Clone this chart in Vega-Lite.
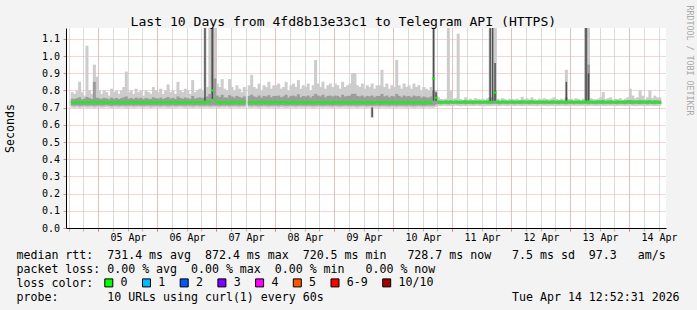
{
"$schema":"https://vega.github.io/schema/vega-lite/v6.json",
"width":600,"height":200,
"autosize":{"type":"none"},
"padding":{"left":66,"top":28,"right":31,"bottom":82},
"background":"#f3f3f3",
"config":{"view":{"fill":"#ffffff","stroke":null},"font":"DejaVu Sans Mono","axis":{"labelFont":"DejaVu Sans Mono","titleFont":"DejaVu Sans Mono","labelColor":"#000000","titleColor":"#000000","titleFontWeight":"normal"}},
"title":{"text":"Last 10 Days from 4fd8b13e33c1 to Telegram API (HTTPS)","anchor":"start","frame":"group","dx":64.5,"dy":35.7,"offset":1.3,"baseline":"alphabetic","font":"DejaVu Sans Mono","fontSize":13.1,"fontWeight":"normal","color":"#000000"},
"data":{"values":[
{"t":"2026-04-04T13:30","lo":0.700,"a":0.712,"b":0.752,"hi":0.790,"m":0.731},
{"t":"2026-04-04T14:30","lo":0.699,"a":0.711,"b":0.750,"hi":0.780,"m":0.729},
{"t":"2026-04-04T15:30","lo":0.701,"a":0.713,"b":0.755,"hi":0.800,"m":0.732},
{"t":"2026-04-04T16:30","lo":0.698,"a":0.710,"b":0.760,"hi":0.850,"m":0.730},
{"t":"2026-04-04T17:30","lo":0.700,"a":0.712,"b":0.748,"hi":0.790,"m":0.733},
{"t":"2026-04-04T18:30","lo":0.702,"a":0.713,"b":0.752,"hi":0.770,"m":0.731},
{"t":"2026-04-04T19:30","lo":0.699,"a":0.711,"b":0.762,"hi":1.060,"m":0.730},
{"t":"2026-04-04T20:30","lo":0.700,"a":0.712,"b":0.756,"hi":0.800,"m":0.732},
{"t":"2026-04-04T21:30","lo":0.701,"a":0.713,"b":0.750,"hi":0.780,"m":0.729},
{"t":"2026-04-04T22:30","lo":0.698,"a":0.711,"b":0.850,"hi":0.950,"m":0.735},
{"t":"2026-04-04T23:30","lo":0.700,"a":0.712,"b":0.758,"hi":0.880,"m":0.731},
{"t":"2026-04-05T00:30","lo":0.701,"a":0.713,"b":0.754,"hi":0.800,"m":0.730},
{"t":"2026-04-05T01:30","lo":0.699,"a":0.711,"b":0.751,"hi":0.780,"m":0.732},
{"t":"2026-04-05T02:30","lo":0.700,"a":0.712,"b":0.757,"hi":0.800,"m":0.731},
{"t":"2026-04-05T03:30","lo":0.702,"a":0.714,"b":0.753,"hi":0.790,"m":0.729},
{"t":"2026-04-05T04:30","lo":0.700,"a":0.712,"b":0.749,"hi":0.770,"m":0.731},
{"t":"2026-04-05T05:30","lo":0.698,"a":0.710,"b":0.758,"hi":0.810,"m":0.733},
{"t":"2026-04-05T06:30","lo":0.701,"a":0.712,"b":0.752,"hi":0.790,"m":0.730},
{"t":"2026-04-05T07:30","lo":0.700,"a":0.713,"b":0.756,"hi":0.800,"m":0.731},
{"t":"2026-04-05T08:30","lo":0.699,"a":0.711,"b":0.750,"hi":0.780,"m":0.732},
{"t":"2026-04-05T09:30","lo":0.701,"a":0.712,"b":0.755,"hi":0.800,"m":0.730},
{"t":"2026-04-05T10:30","lo":0.700,"a":0.712,"b":0.760,"hi":0.820,"m":0.731},
{"t":"2026-04-05T11:30","lo":0.698,"a":0.711,"b":0.765,"hi":0.910,"m":0.733},
{"t":"2026-04-05T12:30","lo":0.700,"a":0.712,"b":0.752,"hi":0.790,"m":0.729},
{"t":"2026-04-05T13:30","lo":0.701,"a":0.713,"b":0.756,"hi":0.800,"m":0.731},
{"t":"2026-04-05T14:30","lo":0.699,"a":0.711,"b":0.750,"hi":0.780,"m":0.732},
{"t":"2026-04-05T15:30","lo":0.700,"a":0.712,"b":0.758,"hi":0.810,"m":0.730},
{"t":"2026-04-05T16:30","lo":0.702,"a":0.713,"b":0.753,"hi":0.790,"m":0.731},
{"t":"2026-04-05T17:30","lo":0.700,"a":0.712,"b":0.757,"hi":0.800,"m":0.729},
{"t":"2026-04-05T18:30","lo":0.699,"a":0.711,"b":0.749,"hi":0.770,"m":0.732},
{"t":"2026-04-05T19:30","lo":0.701,"a":0.712,"b":0.756,"hi":0.800,"m":0.731},
{"t":"2026-04-05T20:30","lo":0.700,"a":0.713,"b":0.752,"hi":0.790,"m":0.730},
{"t":"2026-04-05T21:30","lo":0.698,"a":0.711,"b":0.751,"hi":0.780,"m":0.733},
{"t":"2026-04-05T22:30","lo":0.700,"a":0.712,"b":0.760,"hi":0.820,"m":0.731},
{"t":"2026-04-05T23:30","lo":0.701,"a":0.712,"b":0.755,"hi":0.800,"m":0.730},
{"t":"2026-04-06T00:30","lo":0.700,"a":0.712,"b":0.753,"hi":0.790,"m":0.731},
{"t":"2026-04-06T01:30","lo":0.699,"a":0.711,"b":0.758,"hi":0.810,"m":0.732},
{"t":"2026-04-06T02:30","lo":0.701,"a":0.713,"b":0.750,"hi":0.780,"m":0.729},
{"t":"2026-04-06T03:30","lo":0.700,"a":0.712,"b":0.756,"hi":0.800,"m":0.731},
{"t":"2026-04-06T04:30","lo":0.698,"a":0.711,"b":0.762,"hi":0.835,"m":0.733},
{"t":"2026-04-06T05:30","lo":0.700,"a":0.712,"b":0.752,"hi":0.790,"m":0.730},
{"t":"2026-04-06T06:30","lo":0.701,"a":0.713,"b":0.757,"hi":0.800,"m":0.731},
{"t":"2026-04-06T07:30","lo":0.699,"a":0.711,"b":0.750,"hi":0.780,"m":0.732},
{"t":"2026-04-06T08:30","lo":0.700,"a":0.712,"b":0.765,"hi":0.850,"m":0.730},
{"t":"2026-04-06T09:30","lo":0.702,"a":0.713,"b":0.756,"hi":0.800,"m":0.731},
{"t":"2026-04-06T10:30","lo":0.700,"a":0.712,"b":0.752,"hi":0.790,"m":0.729},
{"t":"2026-04-06T11:30","lo":0.699,"a":0.711,"b":0.759,"hi":0.810,"m":0.732},
{"t":"2026-04-06T12:30","lo":0.701,"a":0.712,"b":0.755,"hi":0.800,"m":0.731},
{"t":"2026-04-06T13:30","lo":0.700,"a":0.713,"b":0.750,"hi":0.780,"m":0.730},
{"t":"2026-04-06T14:30","lo":0.698,"a":0.711,"b":0.768,"hi":0.860,"m":0.733},
{"t":"2026-04-06T15:30","lo":0.700,"a":0.712,"b":0.753,"hi":0.790,"m":0.731},
{"t":"2026-04-06T16:30","lo":0.701,"a":0.713,"b":0.757,"hi":0.800,"m":0.730},
{"t":"2026-04-06T17:30","lo":0.699,"a":0.711,"b":0.760,"hi":0.810,"m":0.732},
{"t":"2026-04-06T18:30","lo":0.700,"a":0.712,"b":0.756,"hi":0.800,"m":0.731},
{"t":"2026-04-06T19:30","lo":0.700,"a":0.712,"b":0.760,"hi":1.2,"m":0.731,"c":0.740,"d":1.2},
{"t":"2026-04-06T20:30","lo":0.701,"a":0.713,"b":0.765,"hi":0.820,"m":0.733},
{"t":"2026-04-06T21:30","lo":0.699,"a":0.711,"b":0.780,"hi":1.2,"m":0.735},
{"t":"2026-04-06T22:30","lo":0.700,"a":0.713,"b":1.2,"hi":1.2,"m":0.800,"c":0.750,"d":1.2},
{"t":"2026-04-06T23:30","lo":0.701,"a":0.712,"b":0.870,"hi":1.2,"m":0.745},
{"t":"2026-04-07T00:30","lo":0.700,"a":0.712,"b":0.770,"hi":0.840,"m":0.732},
{"t":"2026-04-07T01:30","lo":0.699,"a":0.711,"b":0.762,"hi":0.820,"m":0.730},
{"t":"2026-04-07T02:30","lo":0.701,"a":0.713,"b":0.775,"hi":0.866,"m":0.731},
{"t":"2026-04-07T03:30","lo":0.700,"a":0.712,"b":0.760,"hi":0.810,"m":0.733},
{"t":"2026-04-07T04:30","lo":0.702,"a":0.713,"b":0.758,"hi":0.800,"m":0.731},
{"t":"2026-04-07T05:30","lo":0.699,"a":0.711,"b":0.772,"hi":0.866,"m":0.729},
{"t":"2026-04-07T06:30","lo":0.700,"a":0.712,"b":0.765,"hi":0.820,"m":0.731},
{"t":"2026-04-07T07:30","lo":0.701,"a":0.713,"b":0.758,"hi":0.800,"m":0.732},
{"t":"2026-04-07T08:30","lo":0.700,"a":0.712,"b":0.768,"hi":0.830,"m":0.730},
{"t":"2026-04-07T09:30","lo":0.699,"a":0.711,"b":0.762,"hi":0.810,"m":0.731},
{"t":"2026-04-07T10:30","lo":0.701,"a":0.712,"b":0.756,"hi":0.790,"m":0.733},
{"t":"2026-04-07T11:30","lo":0.700,"a":0.713,"b":0.765,"hi":0.820,"m":0.731},
{"t":"2026-04-07T13:30","lo":0.700,"a":0.712,"b":0.768,"hi":0.830,"m":0.730},
{"t":"2026-04-07T14:30","lo":0.699,"a":0.711,"b":0.775,"hi":0.890,"m":0.732},
{"t":"2026-04-07T15:30","lo":0.701,"a":0.713,"b":0.765,"hi":0.820,"m":0.731},
{"t":"2026-04-07T16:30","lo":0.700,"a":0.712,"b":0.760,"hi":0.810,"m":0.729},
{"t":"2026-04-07T17:30","lo":0.698,"a":0.711,"b":0.770,"hi":0.840,"m":0.731},
{"t":"2026-04-07T18:30","lo":0.700,"a":0.712,"b":0.758,"hi":0.800,"m":0.733},
{"t":"2026-04-07T19:30","lo":0.701,"a":0.713,"b":0.768,"hi":0.830,"m":0.730},
{"t":"2026-04-07T20:30","lo":0.700,"a":0.712,"b":0.764,"hi":0.820,"m":0.731},
{"t":"2026-04-07T21:30","lo":0.699,"a":0.711,"b":0.772,"hi":0.850,"m":0.732},
{"t":"2026-04-07T22:30","lo":0.701,"a":0.712,"b":0.760,"hi":0.810,"m":0.730},
{"t":"2026-04-07T23:30","lo":0.700,"a":0.713,"b":0.768,"hi":0.830,"m":0.731},
{"t":"2026-04-08T00:30","lo":0.700,"a":0.712,"b":0.768,"hi":0.830,"m":0.732},
{"t":"2026-04-08T01:30","lo":0.699,"a":0.711,"b":0.770,"hi":0.840,"m":0.730},
{"t":"2026-04-08T02:30","lo":0.701,"a":0.713,"b":0.760,"hi":0.810,"m":0.731},
{"t":"2026-04-08T03:30","lo":0.700,"a":0.712,"b":0.765,"hi":0.820,"m":0.733},
{"t":"2026-04-08T04:30","lo":0.698,"a":0.711,"b":0.775,"hi":0.850,"m":0.731},
{"t":"2026-04-08T05:30","lo":0.700,"a":0.712,"b":0.758,"hi":0.800,"m":0.729},
{"t":"2026-04-08T06:30","lo":0.701,"a":0.713,"b":0.768,"hi":0.830,"m":0.731},
{"t":"2026-04-08T07:30","lo":0.700,"a":0.712,"b":0.770,"hi":0.840,"m":0.732},
{"t":"2026-04-08T08:30","lo":0.699,"a":0.711,"b":0.765,"hi":0.820,"m":0.730},
{"t":"2026-04-08T09:30","lo":0.701,"a":0.712,"b":0.778,"hi":0.860,"m":0.731},
{"t":"2026-04-08T10:30","lo":0.700,"a":0.713,"b":0.760,"hi":0.810,"m":0.733},
{"t":"2026-04-08T11:30","lo":0.700,"a":0.712,"b":0.768,"hi":0.830,"m":0.731},
{"t":"2026-04-08T12:30","lo":0.699,"a":0.711,"b":0.765,"hi":0.820,"m":0.730},
{"t":"2026-04-08T13:30","lo":0.701,"a":0.713,"b":0.770,"hi":0.840,"m":0.732},
{"t":"2026-04-08T14:30","lo":0.700,"a":0.712,"b":0.758,"hi":0.800,"m":0.731},
{"t":"2026-04-08T15:30","lo":0.698,"a":0.711,"b":0.768,"hi":0.830,"m":0.729},
{"t":"2026-04-08T16:30","lo":0.700,"a":0.712,"b":0.780,"hi":0.977,"m":0.731},
{"t":"2026-04-08T17:30","lo":0.701,"a":0.713,"b":0.770,"hi":0.840,"m":0.733},
{"t":"2026-04-08T18:30","lo":0.700,"a":0.712,"b":0.765,"hi":0.820,"m":0.731},
{"t":"2026-04-08T19:30","lo":0.699,"a":0.711,"b":0.775,"hi":0.850,"m":0.730},
{"t":"2026-04-08T20:30","lo":0.701,"a":0.712,"b":0.760,"hi":0.810,"m":0.732},
{"t":"2026-04-08T21:30","lo":0.700,"a":0.713,"b":0.768,"hi":0.830,"m":0.731},
{"t":"2026-04-08T22:30","lo":0.700,"a":0.712,"b":0.770,"hi":0.840,"m":0.729},
{"t":"2026-04-08T23:30","lo":0.699,"a":0.711,"b":0.765,"hi":0.820,"m":0.731},
{"t":"2026-04-09T00:30","lo":0.701,"a":0.713,"b":0.770,"hi":0.840,"m":0.732},
{"t":"2026-04-09T01:30","lo":0.700,"a":0.712,"b":0.768,"hi":0.830,"m":0.730},
{"t":"2026-04-09T02:30","lo":0.699,"a":0.711,"b":0.760,"hi":0.810,"m":0.731},
{"t":"2026-04-09T03:30","lo":0.701,"a":0.712,"b":0.775,"hi":0.850,"m":0.733},
{"t":"2026-04-09T04:30","lo":0.700,"a":0.713,"b":0.765,"hi":0.820,"m":0.731},
{"t":"2026-04-09T05:30","lo":0.700,"a":0.712,"b":0.768,"hi":0.830,"m":0.729},
{"t":"2026-04-09T06:30","lo":0.699,"a":0.711,"b":0.770,"hi":0.840,"m":0.731},
{"t":"2026-04-09T07:30","lo":0.701,"a":0.713,"b":0.780,"hi":0.900,"m":0.732},
{"t":"2026-04-09T08:30","lo":0.700,"a":0.712,"b":0.780,"hi":0.900,"m":0.730},
{"t":"2026-04-09T09:30","lo":0.698,"a":0.711,"b":0.768,"hi":0.830,"m":0.731},
{"t":"2026-04-09T10:30","lo":0.700,"a":0.712,"b":0.765,"hi":0.820,"m":0.733},
{"t":"2026-04-09T11:30","lo":0.701,"a":0.713,"b":0.770,"hi":0.840,"m":0.731},
{"t":"2026-04-09T12:30","lo":0.700,"a":0.712,"b":0.760,"hi":0.810,"m":0.730},
{"t":"2026-04-09T13:30","lo":0.699,"a":0.711,"b":0.768,"hi":0.830,"m":0.732},
{"t":"2026-04-09T14:30","lo":0.701,"a":0.712,"b":0.765,"hi":0.820,"m":0.731},
{"t":"2026-04-09T15:30","lo":0.640,"a":0.711,"b":0.770,"hi":0.840,"m":0.729,"c":0.645,"d":0.700},
{"t":"2026-04-09T16:30","lo":0.700,"a":0.712,"b":0.760,"hi":0.810,"m":0.731},
{"t":"2026-04-09T17:30","lo":0.700,"a":0.713,"b":0.768,"hi":0.830,"m":0.733},
{"t":"2026-04-09T18:30","lo":0.699,"a":0.711,"b":0.768,"hi":0.830,"m":0.731},
{"t":"2026-04-09T19:30","lo":0.701,"a":0.712,"b":0.780,"hi":0.920,"m":0.730},
{"t":"2026-04-09T20:30","lo":0.700,"a":0.713,"b":0.765,"hi":0.820,"m":0.732},
{"t":"2026-04-09T21:30","lo":0.700,"a":0.712,"b":0.770,"hi":0.840,"m":0.731},
{"t":"2026-04-09T22:30","lo":0.699,"a":0.711,"b":0.760,"hi":0.810,"m":0.729},
{"t":"2026-04-09T23:30","lo":0.701,"a":0.713,"b":0.768,"hi":0.830,"m":0.731},
{"t":"2026-04-10T00:30","lo":0.700,"a":0.712,"b":0.765,"hi":0.820,"m":0.732},
{"t":"2026-04-10T01:30","lo":0.699,"a":0.711,"b":0.780,"hi":0.977,"m":0.730},
{"t":"2026-04-10T02:30","lo":0.701,"a":0.713,"b":0.768,"hi":0.830,"m":0.731},
{"t":"2026-04-10T03:30","lo":0.700,"a":0.712,"b":0.760,"hi":0.810,"m":0.733},
{"t":"2026-04-10T04:30","lo":0.700,"a":0.712,"b":0.770,"hi":0.840,"m":0.731},
{"t":"2026-04-10T05:30","lo":0.699,"a":0.711,"b":0.765,"hi":0.820,"m":0.729},
{"t":"2026-04-10T06:30","lo":0.701,"a":0.713,"b":0.768,"hi":0.830,"m":0.731},
{"t":"2026-04-10T07:30","lo":0.700,"a":0.712,"b":0.760,"hi":0.810,"m":0.732},
{"t":"2026-04-10T08:30","lo":0.698,"a":0.711,"b":0.770,"hi":0.840,"m":0.730},
{"t":"2026-04-10T09:30","lo":0.700,"a":0.712,"b":0.765,"hi":0.820,"m":0.731},
{"t":"2026-04-10T10:30","lo":0.701,"a":0.713,"b":0.768,"hi":0.830,"m":0.733},
{"t":"2026-04-10T11:30","lo":0.700,"a":0.712,"b":0.758,"hi":0.800,"m":0.731},
{"t":"2026-04-10T12:30","lo":0.699,"a":0.711,"b":0.765,"hi":0.820,"m":0.730},
{"t":"2026-04-10T13:30","lo":0.701,"a":0.712,"b":0.760,"hi":0.810,"m":0.732},
{"t":"2026-04-10T14:30","lo":0.700,"a":0.713,"b":0.758,"hi":0.800,"m":0.731},
{"t":"2026-04-10T15:30","lo":0.700,"a":0.712,"b":0.765,"hi":0.820,"m":0.729},
{"t":"2026-04-10T16:30","lo":0.700,"a":0.712,"b":0.800,"hi":1.2,"m":0.870,"c":0.740,"d":1.2},
{"t":"2026-04-10T17:30","lo":0.705,"a":0.718,"b":0.770,"hi":0.800,"m":0.758,"c":0.740,"d":0.790},
{"t":"2026-04-10T18:30","lo":0.710,"a":0.721,"b":0.742,"hi":0.760,"m":0.732},
{"t":"2026-04-10T19:30","lo":0.709,"a":0.720,"b":0.741,"hi":0.750,"m":0.733},
{"t":"2026-04-10T20:30","lo":0.711,"a":0.722,"b":0.740,"hi":0.748,"m":0.731},
{"t":"2026-04-10T21:30","lo":0.710,"a":0.721,"b":0.742,"hi":0.752,"m":0.734},
{"t":"2026-04-10T22:30","lo":0.709,"a":0.720,"b":0.741,"hi":1.2,"m":0.732},
{"t":"2026-04-10T23:30","lo":0.710,"a":0.722,"b":0.743,"hi":0.800,"m":0.733},
{"t":"2026-04-11T00:30","lo":0.709,"a":0.721,"b":0.740,"hi":0.752,"m":0.732},
{"t":"2026-04-11T01:30","lo":0.711,"a":0.722,"b":0.742,"hi":0.755,"m":0.734},
{"t":"2026-04-11T02:30","lo":0.710,"a":0.720,"b":0.741,"hi":1.130,"m":0.733},
{"t":"2026-04-11T03:30","lo":0.708,"a":0.721,"b":0.740,"hi":0.750,"m":0.731},
{"t":"2026-04-11T04:30","lo":0.710,"a":0.722,"b":0.742,"hi":0.745,"m":0.733},
{"t":"2026-04-11T05:30","lo":0.709,"a":0.720,"b":0.743,"hi":0.760,"m":0.734},
{"t":"2026-04-11T06:30","lo":0.711,"a":0.721,"b":0.740,"hi":0.748,"m":0.732},
{"t":"2026-04-11T07:30","lo":0.710,"a":0.722,"b":0.741,"hi":0.752,"m":0.733},
{"t":"2026-04-11T08:30","lo":0.709,"a":0.720,"b":0.742,"hi":0.745,"m":0.731},
{"t":"2026-04-11T09:30","lo":0.710,"a":0.721,"b":0.740,"hi":0.755,"m":0.734},
{"t":"2026-04-11T10:30","lo":0.711,"a":0.722,"b":0.741,"hi":0.750,"m":0.733},
{"t":"2026-04-11T11:30","lo":0.709,"a":0.720,"b":0.742,"hi":0.748,"m":0.732},
{"t":"2026-04-11T12:30","lo":0.710,"a":0.721,"b":0.740,"hi":0.752,"m":0.733},
{"t":"2026-04-11T13:30","lo":0.708,"a":0.722,"b":0.741,"hi":0.746,"m":0.734},
{"t":"2026-04-11T14:30","lo":0.710,"a":0.720,"b":0.742,"hi":0.755,"m":0.732},
{"t":"2026-04-11T15:30","lo":0.709,"a":0.721,"b":0.760,"hi":1.2,"m":0.733,"c":0.730,"d":1.2},
{"t":"2026-04-11T16:30","lo":0.710,"a":0.722,"b":0.760,"hi":1.2,"m":0.735,"c":0.730,"d":1.2},
{"t":"2026-04-11T17:30","lo":0.711,"a":0.722,"b":0.800,"hi":1.2,"m":0.787,"c":0.740,"d":0.960},
{"t":"2026-04-11T18:30","lo":0.710,"a":0.721,"b":0.742,"hi":0.752,"m":0.733},
{"t":"2026-04-11T19:30","lo":0.709,"a":0.720,"b":0.740,"hi":0.748,"m":0.731},
{"t":"2026-04-11T20:30","lo":0.711,"a":0.722,"b":0.741,"hi":0.755,"m":0.734},
{"t":"2026-04-11T21:30","lo":0.710,"a":0.721,"b":0.742,"hi":0.750,"m":0.733},
{"t":"2026-04-11T22:30","lo":0.709,"a":0.720,"b":0.740,"hi":0.745,"m":0.732},
{"t":"2026-04-11T23:30","lo":0.710,"a":0.722,"b":0.741,"hi":0.752,"m":0.733},
{"t":"2026-04-12T00:30","lo":0.710,"a":0.721,"b":0.742,"hi":0.750,"m":0.734},
{"t":"2026-04-12T01:30","lo":0.709,"a":0.720,"b":0.740,"hi":0.748,"m":0.732},
{"t":"2026-04-12T02:30","lo":0.711,"a":0.722,"b":0.741,"hi":0.752,"m":0.733},
{"t":"2026-04-12T03:30","lo":0.710,"a":0.721,"b":0.742,"hi":0.745,"m":0.731},
{"t":"2026-04-12T04:30","lo":0.709,"a":0.720,"b":0.743,"hi":0.763,"m":0.733},
{"t":"2026-04-12T05:30","lo":0.710,"a":0.722,"b":0.740,"hi":0.750,"m":0.734},
{"t":"2026-04-12T06:30","lo":0.711,"a":0.721,"b":0.741,"hi":0.755,"m":0.732},
{"t":"2026-04-12T07:30","lo":0.710,"a":0.720,"b":0.742,"hi":0.748,"m":0.733},
{"t":"2026-04-12T08:30","lo":0.709,"a":0.722,"b":0.743,"hi":0.760,"m":0.734},
{"t":"2026-04-12T09:30","lo":0.710,"a":0.721,"b":0.740,"hi":0.750,"m":0.732},
{"t":"2026-04-12T10:30","lo":0.708,"a":0.720,"b":0.741,"hi":0.745,"m":0.733},
{"t":"2026-04-12T11:30","lo":0.710,"a":0.722,"b":0.742,"hi":0.752,"m":0.731},
{"t":"2026-04-12T12:30","lo":0.711,"a":0.721,"b":0.740,"hi":0.748,"m":0.734},
{"t":"2026-04-12T13:30","lo":0.710,"a":0.720,"b":0.741,"hi":0.755,"m":0.733},
{"t":"2026-04-12T14:30","lo":0.709,"a":0.722,"b":0.742,"hi":0.750,"m":0.732},
{"t":"2026-04-12T15:30","lo":0.710,"a":0.721,"b":0.740,"hi":0.748,"m":0.733},
{"t":"2026-04-12T16:30","lo":0.711,"a":0.720,"b":0.741,"hi":0.752,"m":0.734},
{"t":"2026-04-12T17:30","lo":0.710,"a":0.722,"b":0.743,"hi":0.760,"m":0.732},
{"t":"2026-04-12T18:30","lo":0.709,"a":0.721,"b":0.740,"hi":0.750,"m":0.733},
{"t":"2026-04-12T19:30","lo":0.710,"a":0.720,"b":0.742,"hi":0.745,"m":0.731},
{"t":"2026-04-12T20:30","lo":0.711,"a":0.722,"b":0.741,"hi":0.752,"m":0.734},
{"t":"2026-04-12T21:30","lo":0.710,"a":0.721,"b":0.740,"hi":0.748,"m":0.733},
{"t":"2026-04-12T22:30","lo":0.709,"a":0.720,"b":0.760,"hi":0.920,"m":0.732,"c":0.740,"d":0.850},
{"t":"2026-04-12T23:30","lo":0.710,"a":0.722,"b":0.741,"hi":0.750,"m":0.733},
{"t":"2026-04-13T00:30","lo":0.711,"a":0.721,"b":0.742,"hi":0.752,"m":0.734},
{"t":"2026-04-13T01:30","lo":0.710,"a":0.720,"b":0.740,"hi":0.748,"m":0.732},
{"t":"2026-04-13T02:30","lo":0.709,"a":0.722,"b":0.741,"hi":0.755,"m":0.733},
{"t":"2026-04-13T03:30","lo":0.710,"a":0.721,"b":0.742,"hi":0.750,"m":0.731},
{"t":"2026-04-13T04:30","lo":0.711,"a":0.720,"b":0.740,"hi":0.745,"m":0.733},
{"t":"2026-04-13T05:30","lo":0.710,"a":0.722,"b":0.741,"hi":0.752,"m":0.734},
{"t":"2026-04-13T06:30","lo":0.709,"a":0.721,"b":1.2,"hi":1.2,"m":0.733,"c":0.740,"d":1.2},
{"t":"2026-04-13T07:30","lo":0.710,"a":0.720,"b":0.950,"hi":1.2,"m":0.735,"c":0.740,"d":0.900},
{"t":"2026-04-13T08:30","lo":0.711,"a":0.722,"b":0.742,"hi":0.755,"m":0.733},
{"t":"2026-04-13T09:30","lo":0.710,"a":0.721,"b":0.740,"hi":0.750,"m":0.732},
{"t":"2026-04-13T10:30","lo":0.709,"a":0.720,"b":0.741,"hi":0.748,"m":0.734},
{"t":"2026-04-13T11:30","lo":0.710,"a":0.722,"b":0.742,"hi":0.752,"m":0.733},
{"t":"2026-04-13T12:30","lo":0.711,"a":0.721,"b":0.743,"hi":0.760,"m":0.732},
{"t":"2026-04-13T13:30","lo":0.710,"a":0.720,"b":0.745,"hi":0.790,"m":0.733},
{"t":"2026-04-13T14:30","lo":0.709,"a":0.722,"b":0.740,"hi":0.750,"m":0.731},
{"t":"2026-04-13T15:30","lo":0.710,"a":0.721,"b":0.742,"hi":0.755,"m":0.734},
{"t":"2026-04-13T16:30","lo":0.711,"a":0.720,"b":0.743,"hi":0.760,"m":0.733},
{"t":"2026-04-13T17:30","lo":0.710,"a":0.722,"b":0.740,"hi":0.748,"m":0.732},
{"t":"2026-04-13T18:30","lo":0.709,"a":0.721,"b":0.741,"hi":0.752,"m":0.733},
{"t":"2026-04-13T19:30","lo":0.710,"a":0.720,"b":0.742,"hi":0.750,"m":0.734},
{"t":"2026-04-13T20:30","lo":0.711,"a":0.722,"b":0.740,"hi":0.755,"m":0.732},
{"t":"2026-04-13T21:30","lo":0.710,"a":0.721,"b":0.741,"hi":0.745,"m":0.733},
{"t":"2026-04-13T22:30","lo":0.709,"a":0.720,"b":0.742,"hi":0.752,"m":0.731},
{"t":"2026-04-13T23:30","lo":0.710,"a":0.722,"b":0.743,"hi":0.760,"m":0.734},
{"t":"2026-04-14T00:30","lo":0.711,"a":0.721,"b":0.745,"hi":0.810,"m":0.733},
{"t":"2026-04-14T01:30","lo":0.710,"a":0.720,"b":0.743,"hi":0.770,"m":0.732},
{"t":"2026-04-14T02:30","lo":0.709,"a":0.722,"b":0.741,"hi":0.755,"m":0.734},
{"t":"2026-04-14T03:30","lo":0.710,"a":0.721,"b":0.742,"hi":0.760,"m":0.733},
{"t":"2026-04-14T04:30","lo":0.711,"a":0.720,"b":0.745,"hi":0.800,"m":0.731},
{"t":"2026-04-14T05:30","lo":0.710,"a":0.722,"b":0.743,"hi":0.770,"m":0.733},
{"t":"2026-04-14T06:30","lo":0.709,"a":0.721,"b":0.740,"hi":0.750,"m":0.734},
{"t":"2026-04-14T07:30","lo":0.710,"a":0.720,"b":0.742,"hi":0.760,"m":0.732},
{"t":"2026-04-14T08:30","lo":0.711,"a":0.722,"b":0.745,"hi":0.800,"m":0.733},
{"t":"2026-04-14T09:30","lo":0.710,"a":0.721,"b":0.741,"hi":0.755,"m":0.731},
{"t":"2026-04-14T10:30","lo":0.709,"a":0.720,"b":0.743,"hi":0.770,"m":0.734},
{"t":"2026-04-14T11:30","lo":0.710,"a":0.722,"b":0.742,"hi":0.760,"m":0.732},
{"t":"2026-04-14T12:30","lo":0.711,"a":0.721,"b":0.742,"hi":0.760,"m":0.729}
]},
"layer":[
{"mark":{"type":"bar","size":3,"color":"#cccccc","clip":true},
 "encoding":{
  "x":{"field":"t","type":"temporal","scale":{"domain":[{"year":2026,"month":4,"date":4,"hours":13},{"year":2026,"month":4,"date":14,"hours":13}]},
   "axis":{"orient":"bottom","tickCount":40,"labels":false,"ticks":true,"tickSize":3,"tickColor":"#b4b4b4","domain":false,"grid":true,"gridColor":"#b4b4b4","gridDash":[1,1],"title":null}},
  "y":{"field":"lo","type":"quantitative","scale":{"domain":[0,1.163],"nice":false,"zero":false},
   "axis":{"orient":"left","values":[0,0.1,0.2,0.3,0.4,0.5,0.6,0.7,0.8,0.9,1.0,1.1],"format":".1f","grid":true,"gridColor":"#eeaaaa","gridDash":[1,1],"tickColor":"#e08080","tickSize":3,"domainColor":"#000000","labelFontSize":10,"labelPadding":3.5,"title":"Seconds","titleFontSize":11.6,"titleX":-55.5,"titleY":100,"titleAngle":-90,"titleAlign":"center","titleBaseline":"middle"}},
  "y2":{"field":"hi"}}},
{"mark":{"type":"bar","size":3,"color":"#9c9c9c","clip":true},
 "encoding":{
  "x":{"field":"t","type":"temporal","scale":{"domain":[{"year":2026,"month":4,"date":4,"hours":13},{"year":2026,"month":4,"date":14,"hours":13}]},
   "axis":{"orient":"bottom","tickCount":10,"format":"%d %b","labelOffset":30,"labelFlush":false,"labelOverlap":false,"labelFontSize":10,"labelBaseline":"alphabetic","labelPadding":9.7,"ticks":true,"tickSize":3,"tickColor":"#e08080","domain":true,"domainColor":"#000000","grid":true,"gridColor":"#eeaaaa","gridDash":[1,1],
    "title":["median\u00a0rtt:\u00a0\u00a0731.4\u00a0ms\u00a0avg\u00a0\u00a0872.4\u00a0ms\u00a0max\u00a0\u00a0720.5\u00a0ms\u00a0min\u00a0\u00a0\u00a0728.7\u00a0ms\u00a0now\u00a0\u00a0\u00a07.5\u00a0ms\u00a0sd\u00a0\u00a097.3\u00a0\u00a0\u00a0am/s","packet\u00a0loss:\u00a00.00\u00a0%\u00a0avg\u00a0\u00a00.00\u00a0%\u00a0max\u00a0\u00a00.00\u00a0%\u00a0min\u00a0\u00a0\u00a00.00\u00a0%\u00a0now","loss\u00a0color:","probe:\u00a0\u00a0\u00a0\u00a0\u00a0\u00a0\u00a010\u00a0URLs\u00a0using\u00a0curl(1)\u00a0every\u00a060s\u00a0\u00a0\u00a0\u00a0\u00a0\u00a0\u00a0\u00a0\u00a0\u00a0\u00a0\u00a0\u00a0\u00a0\u00a0\u00a0\u00a0\u00a0\u00a0\u00a0\u00a0\u00a0\u00a0\u00a0\u00a0\u00a0\u00a0Tue\u00a0Apr\u00a014\u00a012:52:31\u00a02026"],
    "titleFontSize":11.6,"titleLineHeight":14,"titleAnchor":"start","titleAlign":"left","titleBaseline":"alphabetic","titleX":-50,"titleY":30.3}},
  "y":{"field":"a","type":"quantitative","scale":{"domain":[0,1.163],"nice":false,"zero":false},
   "axis":{"orient":"right","labels":false,"ticks":false,"domain":false,"grid":false,"title":"RRDTOOL / TOBI OETIKER","titleAngle":90,"titleX":22,"titleY":-23,"titleAlign":"left","titleBaseline":"middle","titleColor":"#a8a8a8","titleFontSize":8.3}},
  "y2":{"field":"b"}}},
{"mark":{"type":"bar","size":1.5,"color":"#505050","clip":true},
 "encoding":{
  "x":{"field":"t","type":"temporal","scale":{"domain":[{"year":2026,"month":4,"date":4,"hours":13},{"year":2026,"month":4,"date":14,"hours":13}]},"axis":null},
  "y":{"field":"c","type":"quantitative","scale":{"domain":[0,1.163],"nice":false,"zero":false},"axis":null},
  "y2":{"field":"d"}}},
{"mark":{"type":"tick","orient":"horizontal","size":3,"thickness":2,"opacity":1,"clip":true},
 "encoding":{
  "x":{"field":"t","type":"temporal","scale":{"domain":[{"year":2026,"month":4,"date":4,"hours":13},{"year":2026,"month":4,"date":14,"hours":13}]},"axis":null},
  "y":{"field":"m","type":"quantitative","scale":{"domain":[0,1.163],"nice":false,"zero":false},"axis":null},
  "color":{"datum":"0","type":"nominal","scale":{"domain":["0","1","2","3","4","5","6-9","10/10"],"range":["#00ff00","#00b8ff","#0059ff","#7e00ff","#ff00ff","#ff5500","#ff0000","#a10000"]},
   "legend":{"orient":"none","legendX":37,"legendY":249,"direction":"horizontal","columns":8,"title":null,"symbolType":"square","symbolSize":64,"symbolStrokeWidth":1,"symbolStrokeColor":"#000000","labelFont":"DejaVu Sans Mono","labelFontSize":11.6,"labelColor":"#000000","labelOffset":6,"columnPadding":11.7,"padding":0,
    "encode":{"symbols":{"update":{"fill":{"scale":"color","field":"value"},"stroke":{"value":"#000000"},"strokeWidth":{"value":1},"opacity":{"value":1},"fillOpacity":{"value":1}}}}}}}}
],
"resolve":{"axis":{"x":"independent","y":"independent"}}
}
